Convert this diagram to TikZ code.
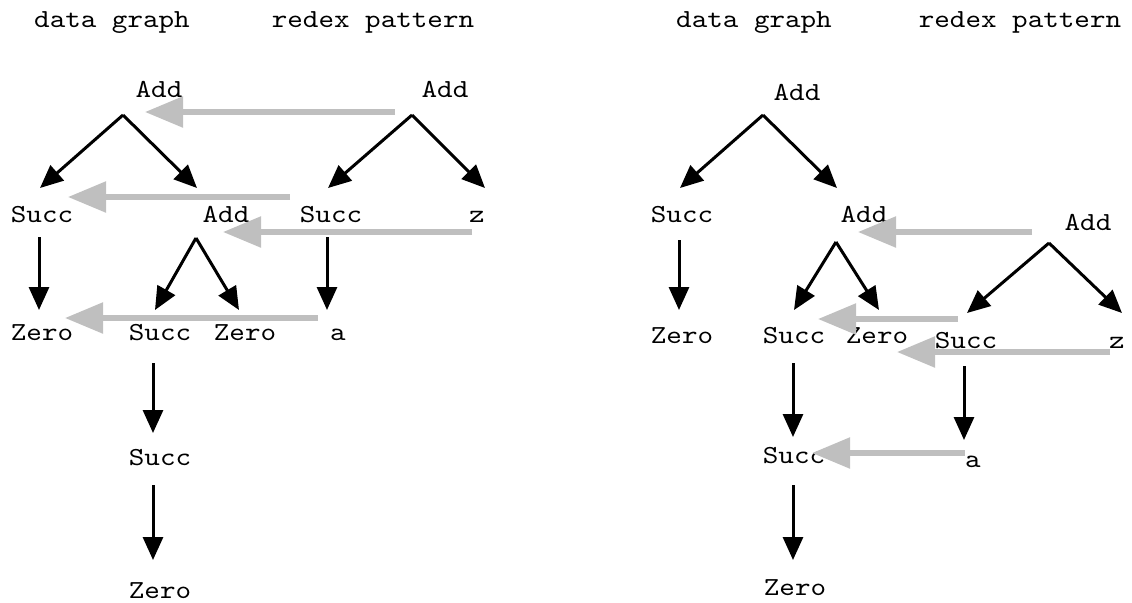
\documentclass[tikz,border=0pt]{standalone}
\usepackage{fontspec}
\setmonofont[Extension=.otf,FakeStretch=1.14]{lmmono10-regular}
\usetikzlibrary{arrows.meta,calc}
\definecolor{matchgray}{RGB}{191,191,191}
\begin{document}
\begin{tikzpicture}[x=0.5pt,y=-0.5pt,
    term/.style={anchor=base,inner sep=0pt,font=\ttfamily\fontsize{13}{15}\selectfont},
    edge/.style={line width=1.5pt,-{Triangle[length=11.5pt,width=10pt]}},
    match/.style={line width=2.7pt,matchgray,-{Triangle[length=19pt,width=15pt]}}]
  \useasboundingbox (0,0) rectangle (1132,602);

  % titulos
  \node[term] (ldt) at (112,27) {data graph};
  \node[term] (lpt) at (373,27) {redex pattern};
  \node[term] (rdt) at (754,27) {data graph};
  \node[term] (rpt) at (1020,27) {redex pattern};

  % esquerda: grafo
  \node[term] (ldA1) at (159,97) {Add};
  \node[term] (ldS1) at (42,222) {Succ};
  \node[term] (ldA2) at (226,222) {Add};
  \node[term] (ldZ1) at (42,340) {Zero};
  \node[term] (ldS2) at (160,340) {Succ};
  \node[term] (ldZ2) at (245,340) {Zero};
  \node[term] (ldS3) at (160,465) {Succ};
  \node[term] (ldZ3) at (160,598) {Zero};

  % esquerda: padrao
  \node[term] (lpA1) at (445,97) {Add};
  \node[term] (lpS1) at (331,222) {Succ};
  \node[term] (lpz) at (477,222) {z};
  \node[term] (lpa) at (338,340) {a};

  \draw[edge] ($(ldA1.base)+(-36,18)$) -- ($(ldS1.base)+(-2,-34)$);
  \draw[edge] ($(ldA1.base)+(-36,18)$) -- ($(ldA2.base)+(-29,-34)$);
  \draw[edge] ($(ldS1.base)+(-3,15)$) -- ($(ldZ1.base)+(-3,-30)$);
  \draw[edge] ($(ldA2.base)+(-30,16)$) -- ($(ldS2.base)+(-5,-30)$);
  \draw[edge] ($(ldA2.base)+(-30,16)$) -- ($(ldZ2.base)+(-6,-30)$);
  \draw[edge] ($(ldS2.base)+(-7,23)$) -- ($(ldS3.base)+(-7,-32)$);
  \draw[edge] ($(ldS3.base)+(-7,20)$) -- ($(ldZ3.base)+(-7,-38)$);
  \draw[edge] ($(lpA1.base)+(-33,18)$) -- ($(lpS1.base)+(-3,-34)$);
  \draw[edge] ($(lpA1.base)+(-33,18)$) -- ($(lpz.base)+(8,-34)$);
  \draw[edge] ($(lpS1.base)+(-4,15)$) -- ($(lpa.base)+(-11,-30)$);

  % esquerda: casamento
  \draw[match] ($(lpA1.base)+(-50,15)$) -- ($(ldA1.base)+(-14,15)$);
  \draw[match] ($(lpS1.base)+(-41,-25)$) -- ($(ldS1.base)+(26,-25)$);
  \draw[match] ($(lpz.base)+(-5,10)$) -- ($(ldA2.base)+(-3,10)$);
  \draw[match] ($(lpa.base)+(-20,-22)$) -- ($(ldZ1.base)+(23,-22)$);

  % direita: grafo
  \node[term] (rdA1) at (797,100) {Add};
  \node[term] (rdS1) at (682,222) {Succ};
  \node[term] (rdA2) at (864,222) {Add};
  \node[term] (rdZ1) at (682,343) {Zero};
  \node[term] (rdS2) at (794,343) {Succ};
  \node[term] (rdZ2) at (877,343) {Zero};
  \node[term] (rdS3) at (794,463) {Succ};
  \node[term] (rdZ3) at (795,595) {Zero};

  % direita: padrao
  \node[term] (rpA1) at (1088,230) {Add};
  \node[term] (rpS1) at (966,348) {Succ};
  \node[term] (rpz) at (1117,348) {z};
  \node[term] (rpa) at (973,467) {a};

  \draw[edge] ($(rdA1.base)+(-34,15)$) -- ($(rdS1.base)+(-2,-34)$);
  \draw[edge] ($(rdA1.base)+(-34,15)$) -- ($(rdA2.base)+(-27,-34)$);
  \draw[edge] ($(rdS1.base)+(-3,18)$) -- ($(rdZ1.base)+(-3,-33)$);
  \draw[edge] ($(rdA2.base)+(-28,20)$) -- ($(rdS2.base)+(0,-33)$);
  \draw[edge] ($(rdA2.base)+(-28,20)$) -- ($(rdZ2.base)+(2,-33)$);
  \draw[edge] ($(rdS2.base)+(-1,20)$) -- ($(rdS3.base)+(-1,-26)$);
  \draw[edge] ($(rdS3.base)+(-1,22)$) -- ($(rdZ3.base)+(-2,-35)$);
  \draw[edge] ($(rpA1.base)+(-39,13)$) -- ($(rpS1.base)+(1,-35)$);
  \draw[edge] ($(rpA1.base)+(-39,13)$) -- ($(rpz.base)+(5,-35)$);
  \draw[edge] ($(rpS1.base)+(-2,18)$) -- ($(rpa.base)+(-9,-27)$);

  % direita: casamento
  \draw[match] ($(rpA1.base)+(-56,2)$) -- ($(rdA2.base)+(-6,10)$);
  \draw[match] ($(rpS1.base)+(-8,-29)$) -- ($(rdS2.base)+(24,-24)$);
  \draw[match] ($(rpz.base)+(-7,4)$) -- ($(rdZ2.base)+(20,9)$);
  \draw[match] ($(rpa.base)+(-8,-14)$) -- ($(rdS3.base)+(18,-10)$);
\end{tikzpicture}
\end{document}
